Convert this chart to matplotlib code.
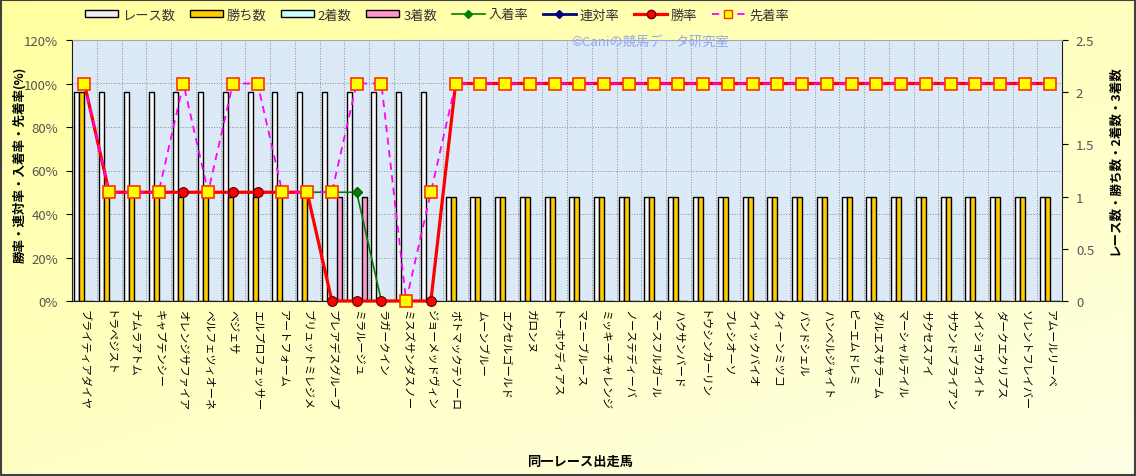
# 同一レース出走馬の成績チャート
# 棒グラフ(レース数・勝ち数・2着数・3着数)と折れ線(各率)の複合グラフ

import numpy as np
import matplotlib.pyplot as plt
from matplotlib.patches import Patch, Rectangle
from matplotlib.lines import Line2D
from matplotlib.ticker import FuncFormatter

plt.rcParams['font.family'] = ['Noto Sans CJK JP', 'DejaVu Sans']

horses = [
    "ブライティアダイヤ", "トラペジスト", "ナムラアトム", "キャプテンシー",
    "オレンジサファイア", "ペルフェツィオーネ", "ベジェサ", "エルプロフェッサー",
    "アートフォーム", "ブリュットミレジメ", "プレアデスグループ", "ミラルージュ",
    "ラガークイン", "ミスズサンダスノー", "ジョーメッドヴィン", "ポトマックテソーロ",
    "ムーンブルー", "エクセルゴールド", "ガロンヌ", "トーホウディアス",
    "マニーブルース", "ミッキーチャレンジ", "ノーステディーバ", "マースフルガール",
    "ハクサンバード", "トウシンカーリン", "プレシオーソ", "クイックバイオ",
    "クィーンミツコ", "バンドシェル", "ハンベルジャイト", "ピーエムドレミ",
    "ダルエスサラーム", "マーシャルテイル", "サクセスアイ", "サウンドブライアン",
    "メイショウカイト", "ダークエクリプス", "ソレントフレイバー", "アムールリーベ",
]

race_counts = [2, 2, 2, 2, 2, 2, 2, 2, 2, 2, 2, 2, 2, 2, 2,
               1, 1, 1, 1, 1, 1, 1, 1, 1, 1, 1, 1, 1, 1, 1, 1, 1, 1, 1, 1, 1, 1, 1, 1, 1]
win_counts = [2, 1, 1, 1, 1, 1, 1, 1, 1, 1, 0, 0, 0, 0, 0,
              1, 1, 1, 1, 1, 1, 1, 1, 1, 1, 1, 1, 1, 1, 1, 1, 1, 1, 1, 1, 1, 1, 1, 1, 1]
second_counts = [0, 0, 0, 0, 0, 0, 0, 0, 0, 0, 0, 0, 0, 0, 0,
                 0, 0, 0, 0, 0, 0, 0, 0, 0, 0, 0, 0, 0, 0, 0, 0, 0, 0, 0, 0, 0, 0, 0, 0, 0]
third_counts = [0, 0, 0, 0, 0, 0, 0, 0, 0, 0, 1, 1, 0, 0, 0,
                0, 0, 0, 0, 0, 0, 0, 0, 0, 0, 0, 0, 0, 0, 0, 0, 0, 0, 0, 0, 0, 0, 0, 0, 0]

# 率 (%)
in_money_rate = [100, 50, 50, 50, 50, 50, 50, 50, 50, 50, 50, 50, 0, 0, 0,
                 100, 100, 100, 100, 100, 100, 100, 100, 100, 100, 100, 100, 100,
                 100, 100, 100, 100, 100, 100, 100, 100, 100, 100, 100, 100]
quinella_rate = [100, 50, 50, 50, 50, 50, 50, 50, 50, 50, 0, 0, 0, 0, 0,
                 100, 100, 100, 100, 100, 100, 100, 100, 100, 100, 100, 100, 100,
                 100, 100, 100, 100, 100, 100, 100, 100, 100, 100, 100, 100]
win_rate = [100, 50, 50, 50, 50, 50, 50, 50, 50, 50, 0, 0, 0, 0, 0,
            100, 100, 100, 100, 100, 100, 100, 100, 100, 100, 100, 100, 100,
            100, 100, 100, 100, 100, 100, 100, 100, 100, 100, 100, 100]
beat_rate = [100, 50, 50, 50, 100, 50, 100, 100, 50, 50, 50, 100, 100, 0, 50,
             100, 100, 100, 100, 100, 100, 100, 100, 100, 100, 100, 100, 100,
             100, 100, 100, 100, 100, 100, 100, 100, 100, 100, 100, 100]


def main() -> None:
    W, H = 1136, 477
    fig = plt.figure(figsize=(W / 100, H / 100), dpi=100)

    # 背景グラデーション(黄色)
    bg = fig.add_axes([0, 0, 1, 1], zorder=-10)
    gx, gy = np.meshgrid(np.linspace(0, 1, 200), np.linspace(0, 1, 200))
    t = np.clip(0.55 * gy + 0.45 * gx, 0, 1)
    top = np.array([1.0, 1.0, 0.62])
    bot = np.array([1.0, 1.0, 0.90])
    img = top[None, None, :] * (1 - t[..., None]) + bot[None, None, :] * t[..., None]
    bg.imshow(img, aspect='auto', extent=[0, 1, 0, 1], origin='upper')
    bg.axis('off')
    fig.patches.append(Rectangle((0.001, 0.002), 0.998, 0.996, transform=fig.transFigure,
                                 fill=False, edgecolor='#404040', lw=1.5))

    x = np.arange(len(horses))
    ax = fig.add_axes([72 / W, 1 - 302 / H, (1062 - 72) / W, (302 - 41) / H])
    ax.set_facecolor('#DCEAF8')
    ax.set_xlim(-0.5, len(horses) - 0.5)
    ax.set_ylim(0, 2.5)

    # グリッド
    for i in range(len(horses) - 1):
        ax.axvline(i + 0.5, color='#8C8C8C', lw=0.7, ls=':', zorder=0)
    for k in range(1, 6):
        ax.axhline(k * 2.5 / 6, color='#8C8C8C', lw=0.7, ls=':', zorder=0)

    bw = 0.2
    ax.bar(x - 0.3, race_counts, bw, color='#F8F8F8', edgecolor='black', lw=1, zorder=2)
    ax.bar(x - 0.1, win_counts, bw, color='#FFCC00', edgecolor='black', lw=1, zorder=2)
    ax.bar(x + 0.1, second_counts, bw, color='#CCFFFF', edgecolor='black', lw=1, zorder=2)
    ax.bar(x + 0.3, third_counts, bw, color='#FF99CC', edgecolor='black', lw=1, zorder=2)

    # 率の折れ線 (左軸)
    ax2 = ax.twinx()
    ax2.set_ylim(0, 120)

    # twinx の後で左右を入れ替える
    ax.yaxis.tick_right()
    ax2.yaxis.tick_left()

    ax.set_yticks([0, 0.5, 1, 1.5, 2, 2.5])
    ax.set_yticklabels(['0', '0.5', '1', '1.5', '2', '2.5'])
    ax.set_xticks(x)
    ax.set_xticklabels(horses, rotation=270, fontsize=8, va='top', ha='center')
    ax.tick_params(axis='x', length=0, pad=6)
    ax.tick_params(axis='y', direction='out', length=4, labelsize=9.5,
                   labelcolor='#555555', pad=6)
    ax.spines['top'].set_color('#A8A8A8')
    ax.spines['left'].set_color('#202020')
    ax.spines['right'].set_color('#202020')
    ax.spines['bottom'].set_color('#202020')

    ax2.set_yticks([0, 20, 40, 60, 80, 100, 120])
    ax2.yaxis.set_major_formatter(FuncFormatter(lambda v, p: f"{v:.0f}%"))
    ax2.tick_params(axis='y', direction='out', length=4, labelsize=9.5,
                    labelcolor='#555555', pad=6)
    for s in ax2.spines.values():
        s.set_visible(False)

    ax2.plot(x, in_money_rate, color='#008000', lw=1.2, marker='D', ms=5,
             mfc='#008000', mec='#006000', clip_on=False, zorder=3)
    ax2.plot(x, quinella_rate, color='#000080', lw=1.2, marker='D', ms=4,
             mfc='#000080', clip_on=False, zorder=3)
    ax2.plot(x, win_rate, color='#FF0000', lw=2.3, marker='o', ms=7,
             mfc='#FF0000', mec='#600000', mew=0.8, clip_on=False, zorder=4)
    ax2.plot(x, beat_rate, color='#FF00FF', lw=1.3, ls=(0, (4, 3)), marker='s', ms=8,
             mfc='#FFFF00', mec='#FF3300', mew=1.2, clip_on=False, zorder=5)

    # 凡例
    handles = [
        Patch(facecolor='#F0F0F0', edgecolor='black', label='レース数'),
        Patch(facecolor='#FFCC00', edgecolor='black', label='勝ち数'),
        Patch(facecolor='#CCFFFF', edgecolor='black', label='2着数'),
        Patch(facecolor='#FF99CC', edgecolor='black', label='3着数'),
        Line2D([], [], color='#008000', lw=1.2, marker='D', ms=4, label='入着率'),
        Line2D([], [], color='#000080', lw=2, marker='D', ms=4, label='連対率'),
        Line2D([], [], color='#FF0000', lw=2.3, marker='o', ms=6, mfc='#FF0000',
               mec='#600000', label='勝率'),
        Line2D([], [], color='#FF00FF', lw=1.3, ls=(0, (4, 3)), marker='s', ms=6,
               mfc='#FFFF00', mec='#FF3300', label='先着率'),
    ]
    fig.legend(handles=handles, loc='center', bbox_to_anchor=(437 / W, 1 - 16 / H),
               ncol=8, frameon=False, fontsize=9.5, handlelength=2.5, handleheight=0.45,
               columnspacing=1.1, handletextpad=0.3, labelcolor='#333333')

    fig.text(650 / W, 1 - 42 / H, '©Caniの競馬データ研究室', color='#93A6EE',
             fontsize=9.5, ha='center', va='center')

    fig.text(20 / W, 1 - 165 / H, '勝率・連対率・入着率・先着率(%)', rotation=90,
             fontsize=9, fontweight='bold', ha='center', va='center')
    fig.text(1115 / W, 1 - 160 / H, 'レース数・勝ち数・2着数・3着数', rotation=90,
             fontsize=9, fontweight='bold', ha='center', va='center')
    fig.text(580 / W, 1 - 462 / H, '同一レース出走馬', fontsize=9.5,
             fontweight='bold', ha='center', va='center')

    fig.savefig('out.png', dpi=100)
    plt.close(fig)


if __name__ == "__main__":
    main()
